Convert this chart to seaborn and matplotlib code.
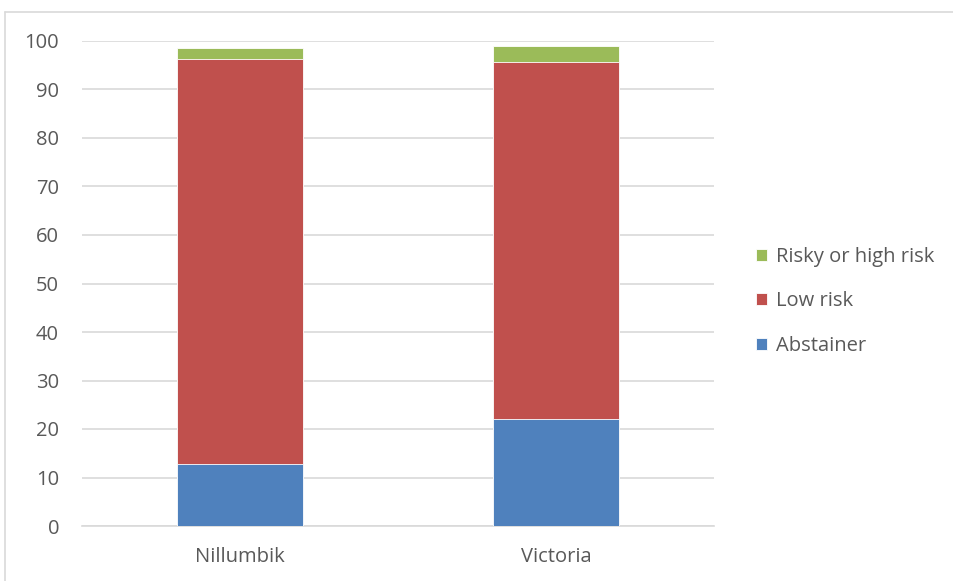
import matplotlib
matplotlib.use("Agg")
import matplotlib.pyplot as plt
import seaborn as sns
import pandas as pd
from matplotlib.lines import Line2D

regions = ["Nillumbik", "Victoria"]
abstainer = [12.7, 22.0]
low_risk = [83.6, 73.6]
risky_high = [2.2, 3.4]

series_names = ["Abstainer", "Low risk", "Risky or high risk"]
series_colors = ["#4F81BD", "#C0504D", "#9BBB59"]

sns.set_theme(style="white")
plt.rcParams["font.family"] = ["Open Sans", "DejaVu Sans"]

df = pd.DataFrame({
    "region": regions,
    "Abstainer": abstainer,
    "Low risk": low_risk,
    "Risky or high risk": risky_high,
})

fig = plt.figure(figsize=(9.54, 5.81), dpi=100)
ax = fig.add_axes([82 / 954, 1 - 526 / 581, (714 - 82) / 954, (526 - 41) / 581])

# stacked bars: each layer is drawn as the cumulative top, lower layers in front
bottom = pd.Series([0.0] * len(df))
for name, color in zip(series_names, series_colors):
    tmp = df[["region"]].copy()
    tmp["top"] = bottom + df[name]
    sns.barplot(data=tmp, x="region", y="top", color=color, width=0.4,
                ax=ax, label=name, saturation=1,
                edgecolor="white", linewidth=0.6)
    bottom = bottom + df[name]

for i, cont in enumerate(ax.containers):
    for p in cont:
        p.set_zorder(10 - i)

ax.set_ylim(0, 100)
ax.set_xlim(-0.5, 1.5)
ax.set_yticks(range(0, 101, 10))
ax.yaxis.grid(True, color="#D9D9D9", linewidth=1.2, zorder=0)
ax.set_axisbelow(True)
for s in ["top", "right", "left"]:
    ax.spines[s].set_visible(False)
ax.spines["bottom"].set_color("#D9D9D9")
ax.spines["bottom"].set_linewidth(1.2)
ax.set_xlabel("")
ax.set_ylabel("")
ax.tick_params(axis="both", colors="#595959", labelsize=14.5, length=0)
ax.tick_params(axis="y", pad=16.5)
ax.tick_params(axis="x", pad=15)

handles, labels = ax.get_legend_handles_labels()
leg = ax.legend(handles[::-1], labels[::-1], loc="center left",
                bbox_to_anchor=(756 / 954, 1 - 301.5 / 581), bbox_transform=fig.transFigure,
                frameon=False, fontsize=14.5, handlelength=0.55, handleheight=0.55,
                handletextpad=0.45, labelspacing=1.22, labelcolor="#595959",
                borderpad=0, borderaxespad=0)

# chart frame
fig.add_artist(Line2D([5 / 954, 5 / 954], [0, 1 - 12 / 581], transform=fig.transFigure,
                      color="#D9D9D9", linewidth=1.2))
fig.add_artist(Line2D([5 / 954, 1], [1 - 12 / 581, 1 - 12 / 581], transform=fig.transFigure,
                      color="#D9D9D9", linewidth=1.2))

fig.savefig("out.png", dpi=100)
